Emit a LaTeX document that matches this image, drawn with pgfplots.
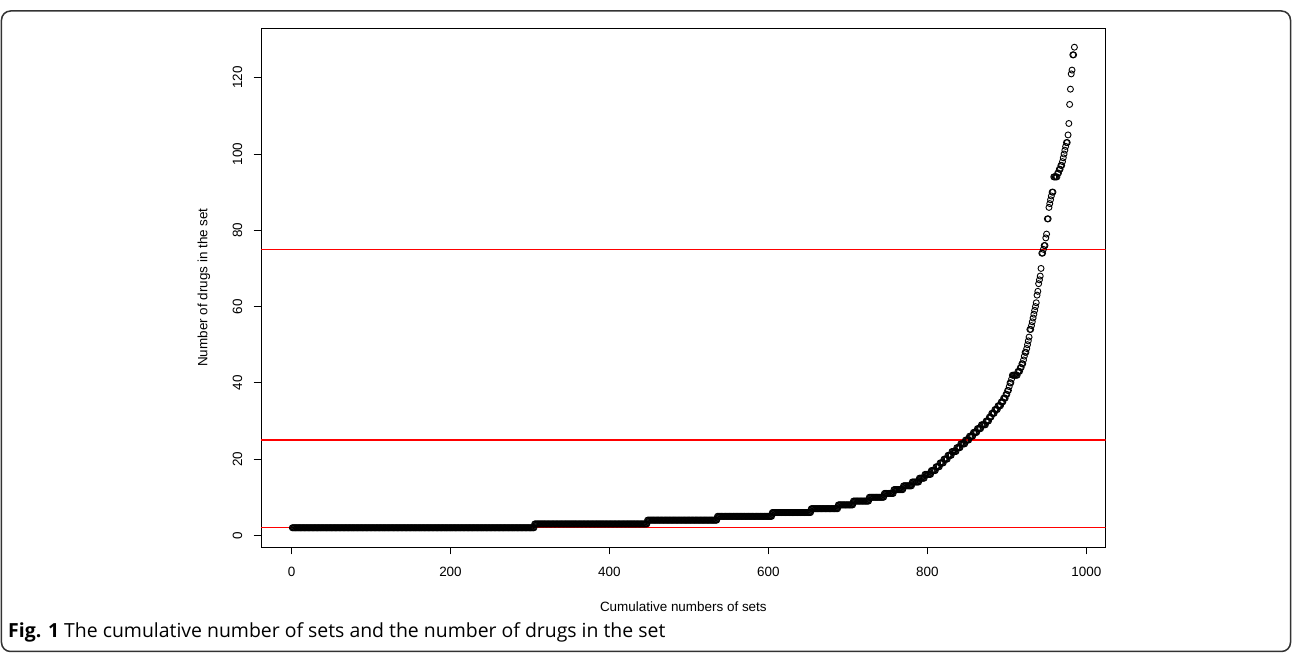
\documentclass[border=0pt]{standalone}
\usepackage{pgfplots}
\pgfplotsset{compat=1.18}
\usepackage{fontspec}
\setmainfont{Liberation Sans}
\newfontfamily\capfont{Open Sans}
\begin{document}
\begin{tikzpicture}[x=1bp,y=1bp]
\path[use as bounding box] (0,0) rectangle (1292,653);
\draw[line width=1.5bp, black!80, rounded corners=9bp] (1.5,1.5) rectangle (1290.5,642);
\node[anchor=base west, font=\capfont\fontsize{19.5}{23}\selectfont, inner sep=0pt] at (8,15) {\textbf{Fig. 1} The cumulative number of sets and the number of drugs in the set};
\begin{axis}[
 at={(261bp,106bp)}, anchor=south west, scale only axis,
 width=844.7bp, height=519bp,
 xmin=-38.4, xmax=1024.4, ymin=-3.04, ymax=133.04,
 xtick={0,200,400,600,800,1000}, ytick={0,20,40,60,80,100,120},
 xtick pos=bottom, ytick pos=left, tick align=outside,
 major tick length=7.5bp,
 axis line style={line width=0.8bp},
 tick style={black, line width=0.8bp},
 /pgf/number format/assume math mode=true,
 /pgf/number format/1000 sep={},
 tick label style={font=\fontsize{13.5}{16}\selectfont, inner sep=0pt},
 xticklabel style={anchor=north},
 yticklabel style={rotate=90, anchor=south},
 xticklabel shift=12.5bp, yticklabel shift=11bp,
 label style={font=\fontsize{13.5}{16}\selectfont},
 xlabel={Cumulative numbers of sets}, ylabel={Number of drugs in the set},
 x label style={at={(axis description cs:0.5,-0.1156)}, anchor=center},
 y label style={at={(axis description cs:-0.0675,0.5)}, anchor=center},
]
\addplot[only marks, mark=o, mark size=3bp, black, mark options={line width=0.9bp}] coordinates {
(1,2)(2,2)(3,2)(4,2)(5,2)(6,2)(7,2)(8,2)(9,2)(10,2)
(11,2)(12,2)(13,2)(14,2)(15,2)(16,2)(17,2)(18,2)(19,2)(20,2)
(21,2)(22,2)(23,2)(24,2)(25,2)(26,2)(27,2)(28,2)(29,2)(30,2)
(31,2)(32,2)(33,2)(34,2)(35,2)(36,2)(37,2)(38,2)(39,2)(40,2)
(41,2)(42,2)(43,2)(44,2)(45,2)(46,2)(47,2)(48,2)(49,2)(50,2)
(51,2)(52,2)(53,2)(54,2)(55,2)(56,2)(57,2)(58,2)(59,2)(60,2)
(61,2)(62,2)(63,2)(64,2)(65,2)(66,2)(67,2)(68,2)(69,2)(70,2)
(71,2)(72,2)(73,2)(74,2)(75,2)(76,2)(77,2)(78,2)(79,2)(80,2)
(81,2)(82,2)(83,2)(84,2)(85,2)(86,2)(87,2)(88,2)(89,2)(90,2)
(91,2)(92,2)(93,2)(94,2)(95,2)(96,2)(97,2)(98,2)(99,2)(100,2)
(101,2)(102,2)(103,2)(104,2)(105,2)(106,2)(107,2)(108,2)(109,2)(110,2)
(111,2)(112,2)(113,2)(114,2)(115,2)(116,2)(117,2)(118,2)(119,2)(120,2)
(121,2)(122,2)(123,2)(124,2)(125,2)(126,2)(127,2)(128,2)(129,2)(130,2)
(131,2)(132,2)(133,2)(134,2)(135,2)(136,2)(137,2)(138,2)(139,2)(140,2)
(141,2)(142,2)(143,2)(144,2)(145,2)(146,2)(147,2)(148,2)(149,2)(150,2)
(151,2)(152,2)(153,2)(154,2)(155,2)(156,2)(157,2)(158,2)(159,2)(160,2)
(161,2)(162,2)(163,2)(164,2)(165,2)(166,2)(167,2)(168,2)(169,2)(170,2)
(171,2)(172,2)(173,2)(174,2)(175,2)(176,2)(177,2)(178,2)(179,2)(180,2)
(181,2)(182,2)(183,2)(184,2)(185,2)(186,2)(187,2)(188,2)(189,2)(190,2)
(191,2)(192,2)(193,2)(194,2)(195,2)(196,2)(197,2)(198,2)(199,2)(200,2)
(201,2)(202,2)(203,2)(204,2)(205,2)(206,2)(207,2)(208,2)(209,2)(210,2)
(211,2)(212,2)(213,2)(214,2)(215,2)(216,2)(217,2)(218,2)(219,2)(220,2)
(221,2)(222,2)(223,2)(224,2)(225,2)(226,2)(227,2)(228,2)(229,2)(230,2)
(231,2)(232,2)(233,2)(234,2)(235,2)(236,2)(237,2)(238,2)(239,2)(240,2)
(241,2)(242,2)(243,2)(244,2)(245,2)(246,2)(247,2)(248,2)(249,2)(250,2)
(251,2)(252,2)(253,2)(254,2)(255,2)(256,2)(257,2)(258,2)(259,2)(260,2)
(261,2)(262,2)(263,2)(264,2)(265,2)(266,2)(267,2)(268,2)(269,2)(270,2)
(271,2)(272,2)(273,2)(274,2)(275,2)(276,2)(277,2)(278,2)(279,2)(280,2)
(281,2)(282,2)(283,2)(284,2)(285,2)(286,2)(287,2)(288,2)(289,2)(290,2)
(291,2)(292,2)(293,2)(294,2)(295,2)(296,2)(297,2)(298,2)(299,2)(300,2)
(301,2)(302,2)(303,2)(304,2)(305,2)
(306,3)(307,3)(308,3)(309,3)(310,3)
(311,3)(312,3)(313,3)(314,3)(315,3)(316,3)(317,3)(318,3)(319,3)(320,3)
(321,3)(322,3)(323,3)(324,3)(325,3)(326,3)(327,3)(328,3)(329,3)(330,3)
(331,3)(332,3)(333,3)(334,3)(335,3)(336,3)(337,3)(338,3)(339,3)(340,3)
(341,3)(342,3)(343,3)(344,3)(345,3)(346,3)(347,3)(348,3)(349,3)(350,3)
(351,3)(352,3)(353,3)(354,3)(355,3)(356,3)(357,3)(358,3)(359,3)(360,3)
(361,3)(362,3)(363,3)(364,3)(365,3)(366,3)(367,3)(368,3)(369,3)(370,3)
(371,3)(372,3)(373,3)(374,3)(375,3)(376,3)(377,3)(378,3)(379,3)(380,3)
(381,3)(382,3)(383,3)(384,3)(385,3)(386,3)(387,3)(388,3)(389,3)(390,3)
(391,3)(392,3)(393,3)(394,3)(395,3)(396,3)(397,3)(398,3)(399,3)(400,3)
(401,3)(402,3)(403,3)(404,3)(405,3)(406,3)(407,3)(408,3)(409,3)(410,3)
(411,3)(412,3)(413,3)(414,3)(415,3)(416,3)(417,3)(418,3)(419,3)(420,3)
(421,3)(422,3)(423,3)(424,3)(425,3)(426,3)(427,3)(428,3)(429,3)(430,3)
(431,3)(432,3)(433,3)(434,3)(435,3)(436,3)(437,3)(438,3)(439,3)(440,3)
(441,3)(442,3)(443,3)(444,3)(445,3)(446,3)(447,3)
(448,4)(449,4)(450,4)
(451,4)(452,4)(453,4)(454,4)(455,4)(456,4)(457,4)(458,4)(459,4)(460,4)
(461,4)(462,4)(463,4)(464,4)(465,4)(466,4)(467,4)(468,4)(469,4)(470,4)
(471,4)(472,4)(473,4)(474,4)(475,4)(476,4)(477,4)(478,4)(479,4)(480,4)
(481,4)(482,4)(483,4)(484,4)(485,4)(486,4)(487,4)(488,4)(489,4)(490,4)
(491,4)(492,4)(493,4)(494,4)(495,4)(496,4)(497,4)(498,4)(499,4)(500,4)
(501,4)(502,4)(503,4)(504,4)(505,4)(506,4)(507,4)(508,4)(509,4)(510,4)
(511,4)(512,4)(513,4)(514,4)(515,4)(516,4)(517,4)(518,4)(519,4)(520,4)
(521,4)(522,4)(523,4)(524,4)(525,4)(526,4)(527,4)(528,4)(529,4)(530,4)
(531,4)(532,4)(533,4)(534,4)(535,4)
(536,5)(537,5)(538,5)(539,5)(540,5)
(541,5)(542,5)(543,5)(544,5)(545,5)(546,5)(547,5)(548,5)(549,5)(550,5)
(551,5)(552,5)(553,5)(554,5)(555,5)(556,5)(557,5)(558,5)(559,5)(560,5)
(561,5)(562,5)(563,5)(564,5)(565,5)(566,5)(567,5)(568,5)(569,5)(570,5)
(571,5)(572,5)(573,5)(574,5)(575,5)(576,5)(577,5)(578,5)(579,5)(580,5)
(581,5)(582,5)(583,5)(584,5)(585,5)(586,5)(587,5)(588,5)(589,5)(590,5)
(591,5)(592,5)(593,5)(594,5)(595,5)(596,5)(597,5)(598,5)(599,5)(600,5)
(601,5)(602,5)(603,5)(604,5)
(605,6)(606,6)(607,6)(608,6)(609,6)(610,6)
(611,6)(612,6)(613,6)(614,6)(615,6)(616,6)(617,6)(618,6)(619,6)(620,6)
(621,6)(622,6)(623,6)(624,6)(625,6)(626,6)(627,6)(628,6)(629,6)(630,6)
(631,6)(632,6)(633,6)(634,6)(635,6)(636,6)(637,6)(638,6)(639,6)(640,6)
(641,6)(642,6)(643,6)(644,6)(645,6)(646,6)(647,6)(648,6)(649,6)(650,6)
(651,6)(652,6)(653,6)
(654,7)(655,7)(656,7)(657,7)(658,7)(659,7)(660,7)
(661,7)(662,7)(663,7)(664,7)(665,7)(666,7)(667,7)(668,7)(669,7)(670,7)
(671,7)(672,7)(673,7)(674,7)(675,7)(676,7)(677,7)(678,7)(679,7)(680,7)
(681,7)(682,7)(683,7)(684,7)(685,7)(686,7)(687,7)
(688,8)(689,8)(690,8)(691,8)(692,8)(693,8)(694,8)(695,8)(696,8)(697,8)
(698,8)(699,8)(700,8)(701,8)(702,8)(703,8)(704,8)(705,8)(706,8)
(707,9)(708,9)(709,9)(710,9)(711,9)(712,9)(713,9)(714,9)(715,9)(716,9)
(717,9)(718,9)(719,9)(720,9)(721,9)(722,9)(723,9)(724,9)(725,9)(726,9)
(727,10)(728,10)(729,10)(730,10)(731,10)(732,10)(733,10)(734,10)(735,10)(736,10)
(737,10)(738,10)(739,10)(740,10)(741,10)(742,10)(743,10)(744,10)(745,10)
(746,11)(747,11)(748,11)(749,11)(750,11)(751,11)(752,11)(753,11)(754,11)(755,11)(756,11)(757,11)
(758,12)(759,12)(760,12)(761,12)(762,12)(763,12)(764,12)(765,12)(766,12)(767,12)(768,12)(769,12)
(770,13)(771,13)(772,13)(773,13)(774,13)(775,13)(776,13)(777,13)(778,13)(779,13)(780,13)
(781,14)(782,14)(783,14)(784,14)(785,14)(786,14)(787,14)(788,14)(789,14)
(790,15)(791,15)(792,15)(793,15)(794,15)(795,15)(796,15)
(797,16)(798,16)(799,16)(800,16)(801,16)(802,16)(803,16)(804,16)
(805,17)(806,17)(807,17)(808,17)(809,17)(810,17)
(811,18)(812,18)(813,18)(814,18)(815,18)
(816,19)(817,19)(818,19)(819,19)(820,19)
(821,20)(822,20)(823,20)(824,20)(825,20)
(826,21)(827,21)(828,21)(829,21)(830,21)
(831,22)(832,22)(833,22)(834,22)(835,22)(836,22)
(837,23)(838,23)(839,23)(840,23)(841,23)
(842,24)(843,24)(844,24)(845,24)(846,24)(847,24)
(848,25)(849,25)(850,25)(851,25)(852,25)
(853,26)(854,26)(855,26)(856,26)(857,26)
(858,27)(859,27)(860,27)(861,27)(862,27)
(863,28)(864,28)(865,28)(866,28)(867,28)
(868,29)(869,29)(870,29)(871,29)(872,29)(873,29)
(874,30)(875,30)(876,30)(877,30)
(878,31)(879,31)(880,31)
(881,32)(882,32)(883,32)(884,32)
(885,33)(886,33)(887,33)(888,33)
(889,34)(890,34)(891,34)(892,34)
(893,35)(894,35)(895,35)
(896,36)(897,36)(898,36)
(899,37)(900,37)(901,38)(902,38)(903,39)(904,40)(905,40)(906,41)
(907,42)(908,42)(909,42)(910,42)(911,42)(912,42)(913,42)
(914,43)(915,43)(916,43)(917,44)(918,44)(919,45)(920,45)
(921,46)(922,47)(923,48)(924,48)(925,49)(926,50)(927,51)(928,52)
(929,54)(930,54)(931,55)(932,56)(933,57)(934,58)(935,59)(936,60)(937,61)
(938,63)(939,64)(940,66)(941,67)(942,68)(943,70)(944,74)(945,74)(946,75)
(947,76)(948,76)(949,78)(950,79)(951,83)(952,83)(953,86)(954,87)(955,88)
(956,89)(957,90)(958,90)(959,94)(960,94)(961,94)(962,94)(963,94)
(964,95)(965,95)(966,96)(967,96)(968,97)(969,97)(970,98)(971,99)(972,100)
(973,101)(974,102)(975,103)(976,103)(977,105)(978,108)(979,113)(980,117)
(981,121)(982,122)(983,126)(984,126)(985,128)
};
\addplot[red, line width=1.1bp] coordinates {(-100,2) (1100,2)};
\addplot[red, line width=1.1bp] coordinates {(-100,25) (1100,25)};
\addplot[red, line width=1.1bp] coordinates {(-100,75) (1100,75)};
\end{axis}
\end{tikzpicture}
\end{document}
